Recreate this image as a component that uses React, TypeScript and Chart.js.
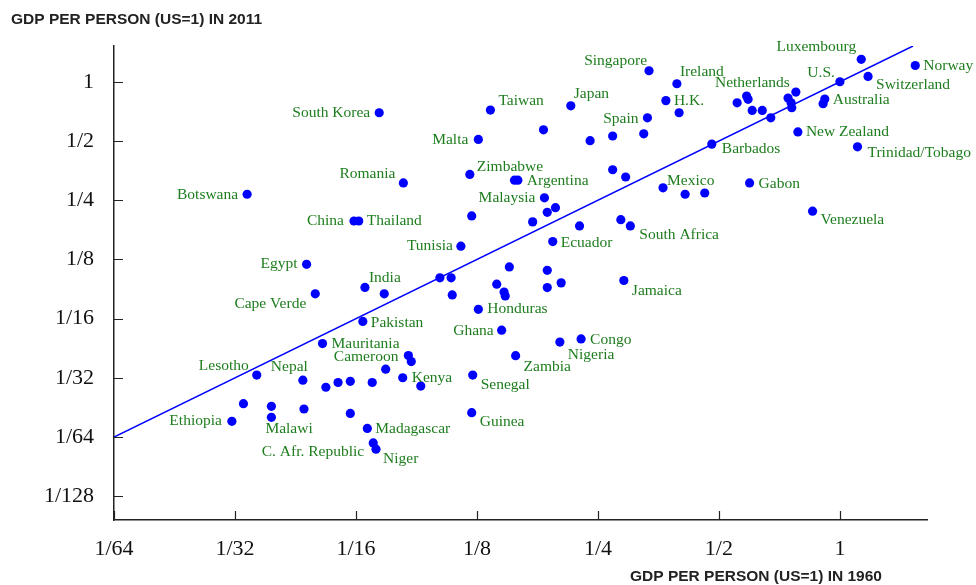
import React, { useEffect, useRef } from "react";
import { Chart, registerables } from "chart.js";

Chart.register(...registerables);

// ---- data (GDP per person relative to US = 1) ----
const COUNTRIES: string[] = [
  "South Korea", "Taiwan", "Malta", "Romania", "Zimbabwe", "Argentina", "", "Botswana",
  "China", "Thailand", "Malaysia", "Tunisia", "Egypt", "Luxembourg", "Norway", "Switzerland",
  "U.S.", "Australia", "", "Singapore", "Ireland", "H.K.", "Japan", "Netherlands", "Spain",
  "New Zealand", "Trinidad/Tobago", "Barbados", "Gabon", "Mexico", "Venezuela", "South Africa",
  "Ecuador", "Jamaica", "India", "Cape Verde", "Honduras", "Pakistan", "Ghana", "Mauritania",
  "Cameroon", "Zambia", "Nigeria", "Congo", "Lesotho", "Nepal", "Kenya", "Senegal", "Malawi",
  "Ethiopia", "Guinea", "Madagascar", "C. Afr. Republic", "Niger",
  "", "", "", "", "", "", "", "", "", "", "", "", "", "", "", "", "", "", "", "", "", "",
  "", "", "", "", "", "", "", "", "", "", "", "", "", "", "", "", "", "", "", "", "", "",
];

const GDP_1960: number[] = [
  0.0714, 0.135, 0.126, 0.082, 0.120, 0.158, 0.155, 0.0335,
  0.0618, 0.0635, 0.184, 0.114, 0.0471, 1.13, 1.54, 1.175,
  1.0, 0.917, 0.908, 0.335, 0.393, 0.369, 0.214, 0.777, 0.332,
  0.786, 1.106, 0.480, 0.596, 0.363, 0.855, 0.301,
  0.193, 0.290, 0.0658, 0.0495, 0.126, 0.0650, 0.144, 0.0516,
  0.0844, 0.156, 0.201, 0.227, 0.0354, 0.0461, 0.0817, 0.122, 0.0385,
  0.0307, 0.1213, 0.0667, 0.0690, 0.0701,
  0.1213, 0.1505, 0.398, 0.555, 0.586, 0.591, 0.605, 0.641, 0.673, 0.743, 0.756, 0.759,
  0.325, 0.272, 0.239, 0.183, 0.412, 0.461, 0.272, 0.293, 0.187, 0.196,
  0.172, 0.225, 0.285, 0.187, 0.187, 0.2025, 0.0735, 0.1011, 0.1078, 0.1085, 0.140, 0.146,
  0.147, 0.0858, 0.0741, 0.0526, 0.0564, 0.0605, 0.0686, 0.0906, 0.0328, 0.0385, 0.0464, 0.0605,
];

const GDP_2011: number[] = [
  0.696, 0.718, 0.509, 0.306, 0.338, 0.316, 0.316, 0.268,
  0.196, 0.196, 0.257, 0.146, 0.118, 1.30, 1.21, 1.065,
  1.0, 0.817, 0.773, 1.138, 0.977, 0.802, 0.755, 0.886, 0.656,
  0.556, 0.467, 0.482, 0.306, 0.289, 0.220, 0.185,
  0.154, 0.0977, 0.0901, 0.0836, 0.0697, 0.0605, 0.0546, 0.0467,
  0.0406, 0.0405, 0.0475, 0.0493, 0.0323, 0.0304, 0.0313, 0.0323, 0.0197,
  0.0188, 0.0208, 0.0173, 0.0146, 0.01356,
  0.208, 0.1145, 0.696, 0.782, 0.846, 0.814, 0.715, 0.715, 0.656, 0.826, 0.782, 0.738,
  0.544, 0.530, 0.502, 0.570, 0.268, 0.272, 0.357, 0.328, 0.217, 0.229,
  0.194, 0.185, 0.199, 0.110, 0.0899, 0.0950, 0.0836, 0.1008, 0.1008, 0.0825, 0.0936, 0.0854,
  0.0815, 0.0378, 0.0346, 0.0280, 0.0296, 0.0300, 0.0296, 0.0284, 0.0231, 0.0224, 0.0217, 0.0206,
];

// 45-degree reference line (equal relative income)
const LINE_X: number[] = [1 / 64, 1.52];
const LINE_Y: number[] = [1 / 64, 1.52];

const X_TICKS: number[] = [1 / 64, 1 / 32, 1 / 16, 1 / 8, 1 / 4, 1 / 2, 1];
const X_TICK_LABELS: string[] = ["1/64", "1/32", "1/16", "1/8", "1/4", "1/2", "1"];
const Y_TICKS: number[] = [1 / 128, 1 / 64, 1 / 32, 1 / 16, 1 / 8, 1 / 4, 1 / 2, 1];
const Y_TICK_LABELS: string[] = ["1/128", "1/64", "1/32", "1/16", "1/8", "1/4", "1/2", "1"];

const X_TITLE = "GDP PER PERSON (US=1) IN 1960";
const Y_TITLE = "GDP PER PERSON (US=1) IN 2011";

// label placement style: [textAlign, dx, dy]
const LABEL_STYLE: Record<string, [CanvasTextAlign, number, number]> = {
  "South Korea": ["right", -9, 0],
  Taiwan: ["left", 8, -9],
  Malta: ["right", -10, 0],
  Romania: ["right", -8, -9],
  Zimbabwe: ["left", 7, -8],
  Argentina: ["left", 9, 1],
  Botswana: ["right", -9, 1],
  China: ["right", -10, 0],
  Thailand: ["left", 8, 0],
  Malaysia: ["right", -9, 0],
  Tunisia: ["right", -8, 0],
  Egypt: ["right", -9, 0],
  India: ["left", 4, -9],
  "Cape Verde": ["right", -9, 10],
  Pakistan: ["left", 8, 1],
  Honduras: ["left", 9, 0],
  Ghana: ["right", -8, 1],
  Mauritania: ["left", 9, 0],
  Cameroon: ["right", -10, 1],
  Lesotho: ["right", -8, -9],
  Nepal: ["right", 5, -13],
  Kenya: ["left", 9, 0],
  Senegal: ["left", 8, 10],
  Ethiopia: ["right", -10, 0],
  Malawi: ["left", -6, 12],
  Madagascar: ["left", 8, 1],
  "C. Afr. Republic": ["right", -9, 9],
  Niger: ["left", 7, 10],
  Guinea: ["left", 8, 9],
  Jamaica: ["left", 8, 10],
  Congo: ["left", 9, 1],
  Nigeria: ["left", 8, 13],
  Zambia: ["left", 8, 11],
  Ecuador: ["left", 8, 1],
  "South Africa": ["left", 9, 9],
  Mexico: ["left", 4, -7],
  Gabon: ["left", 9, 1],
  Venezuela: ["left", 8, 9],
  Barbados: ["left", 10, 5],
  "New Zealand": ["left", 8, 0],
  "Trinidad/Tobago": ["left", 10, 6],
  Norway: ["left", 8, 0],
  Switzerland: ["left", 8, 9],
  Australia: ["left", 8, 1],
  "U.S.": ["right", -5, -9],
  Luxembourg: ["right", -5, -12],
  Netherlands: ["right", -6, -9],
  "H.K.": ["left", 8, 0],
  Ireland: ["left", 3, -12],
  Singapore: ["right", -2, -10],
  Japan: ["left", 3, -12],
  Spain: ["right", -9, 1],
};

const LABEL_COLOR = "rgb(30,125,30)";
const DOT_COLOR = "#0000ff";
const AXIS_COLOR = "#222222";

const decorPlugin = {
  id: "decor",
  afterDraw(chart: any) {
    const ctx = chart.ctx;
    const xs = chart.scales.x;
    const ys = chart.scales.y;
    const area = chart.chartArea;
    ctx.save();
    // inward tick marks
    ctx.strokeStyle = AXIS_COLOR;
    ctx.lineWidth = 1.2;
    ctx.beginPath();
    X_TICKS.forEach((v) => {
      const px = Math.round(xs.getPixelForValue(v)) + 0.5;
      ctx.moveTo(px, area.bottom);
      ctx.lineTo(px, area.bottom - 9);
    });
    Y_TICKS.forEach((v) => {
      const py = Math.round(ys.getPixelForValue(v)) + 0.5;
      ctx.moveTo(area.left, py);
      ctx.lineTo(area.left + 9, py);
    });
    ctx.stroke();
    // axis titles
    ctx.fillStyle = AXIS_COLOR;
    ctx.font = 'bold 15.5px "Liberation Sans", Arial, sans-serif';
    ctx.textAlign = "left";
    ctx.textBaseline = "alphabetic";
    ctx.fillText(Y_TITLE, 11, 23.5);
    ctx.fillText(X_TITLE, 630, 581);
    ctx.restore();
  },
  afterDatasetsDraw(chart: any) {
    const ctx = chart.ctx;
    const meta = chart.getDatasetMeta(0);
    ctx.save();
    ctx.fillStyle = LABEL_COLOR;
    ctx.font = '15.5px "Liberation Serif", "Times New Roman", serif';
    ctx.textBaseline = "middle";
    meta.data.forEach((pt: any, i: number) => {
      const name = COUNTRIES[i];
      if (!name) return;
      const st = LABEL_STYLE[name] || ["left", 8, 0];
      ctx.textAlign = st[0];
      ctx.fillText(name, pt.x + st[1], pt.y + st[2]);
    });
    ctx.restore();
  },
};

export default function App() {
  const ref = useRef<HTMLCanvasElement | null>(null);
  useEffect(() => {
    if (!ref.current) return;
    const points = GDP_1960.map((x, i) => ({ x, y: GDP_2011[i] }));
    const line = LINE_X.map((x, i) => ({ x, y: LINE_Y[i] }));
    const chart = new Chart(ref.current, {
      type: "scatter",
      data: {
        datasets: [
          {
            data: points,
            backgroundColor: DOT_COLOR,
            borderColor: DOT_COLOR,
            pointRadius: 4.6,
            pointBorderWidth: 0,
            pointHoverRadius: 4.6,
          },
          {
            type: "line",
            data: line,
            borderColor: DOT_COLOR,
            borderWidth: 1.5,
            pointRadius: 0,
            showLine: true,
            fill: false,
          } as any,
        ],
      },
      options: {
        responsive: false,
        animation: false,
        events: [],
        layout: { padding: { top: 46, right: 49, left: 0, bottom: 0 } },
        plugins: { legend: { display: false }, tooltip: { enabled: false }, title: { display: false } },
        scales: {
          x: {
            type: "logarithmic",
            bounds: "data",
            min: 1 / 64,
            max: 1.647,
            afterBuildTicks: (s: any) => {
              s.ticks = X_TICKS.map((v) => ({ value: v }));
            },
            afterFit: (s: any) => {
              s.height = 65;
            },
            grid: { display: false, drawTicks: false, tickLength: 0 },
            border: { display: true, color: AXIS_COLOR, width: 1.5 },
            ticks: {
              autoSkip: false,
              maxRotation: 0,
              padding: 16,
              color: "#111",
              font: { family: '"Liberation Serif", "Times New Roman", serif', size: 22 },
              callback: (_v: any, i: number) => X_TICK_LABELS[i],
            },
          },
          y: {
            type: "logarithmic",
            bounds: "data",
            min: 0.00592,
            max: 1.52,
            afterBuildTicks: (s: any) => {
              s.ticks = Y_TICKS.map((v) => ({ value: v }));
            },
            afterFit: (s: any) => {
              s.width = 114;
            },
            grid: { display: false, drawTicks: false, tickLength: 0 },
            border: { display: true, color: AXIS_COLOR, width: 1.5 },
            ticks: {
              autoSkip: false,
              padding: 20,
              color: "#111",
              font: { family: '"Liberation Serif", "Times New Roman", serif', size: 22 },
              callback: (_v: any, i: number) => Y_TICK_LABELS[i],
            },
          },
        },
      },
      plugins: [decorPlugin],
    });
    return () => chart.destroy();
  }, []);
  return (
    <div style={{ position: "absolute", left: 0, top: 0, width: 976, height: 585, background: "#fff" }}>
      <canvas ref={ref} width={976} height={585} />
    </div>
  );
}
